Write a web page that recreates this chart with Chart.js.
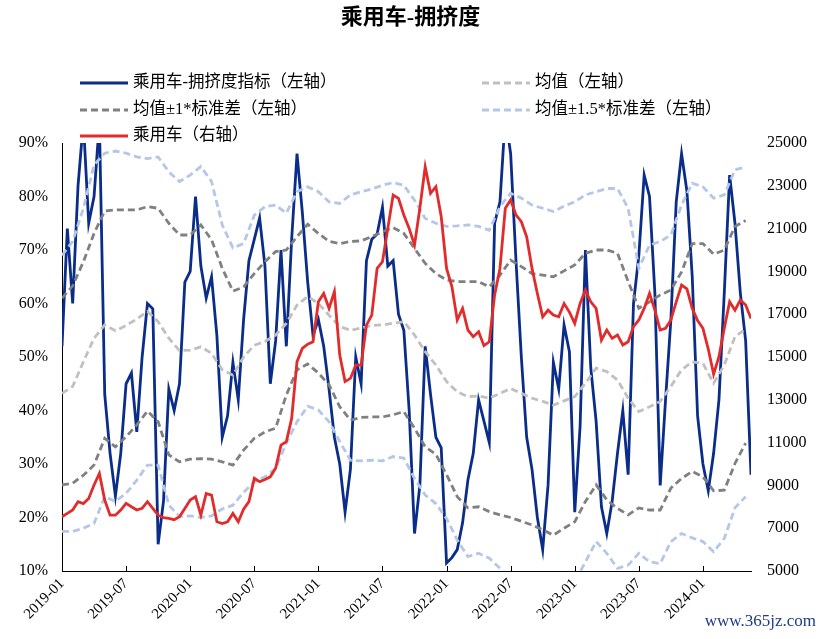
<!DOCTYPE html>
<html>
<head>
<meta charset="utf-8">
<script src="https://cdn.jsdelivr.net/npm/chart.js@4.4.1/dist/chart.umd.min.js"></script>
<style>
  body { margin: 0; background: #fff; }
  #wrap { position: relative; width: 821px; height: 639px; font-family: "Liberation Serif", "Noto Sans CJK SC", serif; color: #000; }
  #chart { position: absolute; left: 0; top: 0; }
  #title { position: absolute; left: 0; top: 3px; width: 821px; text-align: center; font-size: 22px; line-height: 28px; font-weight: bold; }
  .item { position: absolute; height: 20px; line-height: 20px; font-size: 16.5px; white-space: nowrap; }
  .item svg { vertical-align: middle; margin-right: 5px; }
  #site { position: absolute; right: 5px; top: 611px; font-size: 17px; color: #1f3c88; }
</style>
</head>
<body>
<div id="wrap">
  <canvas id="chart" width="821" height="639"></canvas>
  <div id="title">乘用车-拥挤度</div>
  <div id="legend"></div>
  <div id="site">www.365jz.com</div>
</div>
<script>
// x axis: months since 2019-01, labels every 6 months
const xTickLabels = ["2019-01", "2019-07", "2020-01", "2020-07", "2021-01", "2021-07",
                     "2022-01", "2022-07", "2023-01", "2023-07", "2024-01"];

// 拥挤度指标 (%), one value per half month from 2019-01
const crowdIndex = [
  52, 74, 60, 82, 94, 75, 80, 94, 43, 32, 24, 32,
  45, 47, 36, 50, 60, 59, 15, 23, 44, 40, 45, 64,
  66, 80, 67, 61, 65, 54, 35, 39, 49, 42, 57, 68,
  72, 76, 67, 45, 53, 70, 52, 72, 88, 77, 64, 54,
  57, 52, 44, 35, 30, 21, 29, 50, 45, 68, 72, 73,
  78, 67, 68, 58, 55, 40, 17, 26, 52, 43, 35, 33,
  11.5, 12.5, 14, 19, 27, 32, 42, 38, 34, 75, 79, 95,
  88, 68, 50, 35, 29, 20, 14, 26, 49, 44, 56, 51,
  21, 37, 70, 48, 38, 22, 17, 23, 32, 40, 28, 60,
  69, 84, 80, 62, 26, 42, 57, 79, 88, 81, 65, 39,
  30, 25, 32, 42, 62, 84, 75, 62, 53, 28
];

// 乘用车 (right axis), one value per half month from 2019-01
const carSales = [
  7535, 7690, 7850, 8240, 8150, 8390, 9020, 9560, 8315, 7610, 7610, 7850,
  8160, 8000, 7850, 7925, 8240, 7925, 7610, 7490, 7460, 7400, 7535, 7925,
  8315, 8470, 7610, 8620, 8550, 7300, 7220, 7300, 7690, 7300, 7890, 8240,
  9330, 9170, 9280, 9400, 9800, 10880, 11040, 12130, 14780, 15400, 15600, 15710,
  17580, 17970, 17270, 18050, 15090, 13850, 14000, 14620, 14620, 16490, 16960, 19140,
  19450, 21010, 22570, 22410, 21640, 21010, 20230, 21950, 23890, 22650, 22960, 21560,
  19140, 18290, 16730, 17270, 16260, 15950, 16180, 15530, 15710, 17900, 19140, 21950,
  22340, 21640, 21320, 20620, 19140, 17970, 16880, 17190, 16960, 16880, 17500, 17100,
  16570, 17500, 18130, 17580, 17270, 15790, 16260, 15870, 16030, 15560, 15710, 16420,
  16730, 17270, 17970, 17190, 16260, 16340, 16730, 17580, 18360, 18180, 17270, 16700,
  16340, 15370, 14200, 15010, 16340, 17580, 17190, 17660, 17430, 16800
];

// rolling mean and bands (%), one value per month from 2019-01
const meanLine = [
  43.2, 44.5, 49.1, 53.5, 56, 54.9, 55.9, 57.1, 58.5, 56.6,
  53.5, 51.2, 51.3, 51.9, 50.7, 47.6, 46.6, 50, 52.2, 52.9,
  54.1, 56.3, 59.7, 61.3, 60, 57.8, 55.7, 55, 55.4, 55.9,
  56, 56.3, 56.6, 54.1, 51, 48.5, 45.4, 43.5, 42.6, 42.7,
  42.3, 43.2, 44.1, 43.2, 42.3, 41.7, 41, 41.8, 42.6, 45.1,
  47.9, 47.3, 45.7, 42.3, 39.8, 40.7, 41.7, 44.5, 47.6, 49.1,
  48.8, 45.1, 48.5, 53.8, 55.2
];
const upper1 = [
  61, 63.3, 67.8, 73.1, 77.3, 77.5, 77.5, 77.5, 78.1, 77.8,
  75, 72.8, 72.8, 74.7, 71.9, 66.6, 62.3, 63.1, 65.6, 67.8,
  69.7, 70, 72.5, 74.8, 73.1, 71.6, 71.2, 71.6, 71.7, 72.5,
  73.4, 74.2, 73.1, 70.3, 67.5, 65.6, 64.4, 64.1, 64.1, 64.1,
  63.1, 65.3, 68.1, 66.9, 65.6, 65.3, 65, 66.1, 67.2, 69.4,
  70, 70, 69.4, 64.1, 59.1, 60.3, 61.6, 62.5, 65.9, 71.2,
  71.2, 69.2, 70, 74.4, 75.5
];
const lower1 = [
  26.1, 26.4, 27.9, 29.8, 34.8, 33.2, 35.1, 37.3, 39.9, 37.9,
  31.7, 30.4, 30.9, 31, 30.9, 30.4, 29.8, 32.6, 34.8, 36,
  36.7, 42.9, 47.6, 48.7, 47, 44.8, 40.7, 38.2, 38.7, 38.8,
  38.8, 39.2, 39.8, 36.7, 33.2, 31.8, 28, 23.9, 21.8, 22,
  21.1, 20.5, 20, 19.3, 18.6, 17.7, 16.7, 18, 19.2, 23,
  26.1, 23.3, 21.7, 20.5, 21.8, 21.4, 21.4, 25.5, 27.3, 28.6,
  27.6, 25, 25.1, 30.1, 33.9
];
const upper15 = [
  69, 71.6, 77.8, 85.9, 88.1, 88.5, 88.1, 87.4, 87.1, 87.4,
  84.6, 82.8, 84, 85.6, 82.8, 74.7, 70.4, 71.2, 76.5, 78.1,
  78.4, 76.9, 80.9, 81.8, 80.9, 79, 78.7, 80.3, 80.9, 81.4,
  82.1, 82.6, 82.1, 79.3, 75.9, 75, 74.4, 74.5, 74.7, 74.4,
  73.7, 78.1, 80.6, 79.7, 78.4, 77.8, 77.2, 78.2, 79, 80.3,
  80.9, 81.5, 81.5, 77.8, 66.6, 70.9, 71.6, 72.8, 78.4, 82.5,
  81.8, 79.7, 80.3, 85, 85.5
];
const lower15 = [
  17.4, 17.4, 18, 18.9, 23.9, 23, 24.5, 27, 29.8, 29.8,
  22.3, 20.2, 20.3, 20, 20.3, 21.6, 22.3, 24.7, 26.7, 27.6,
  29.2, 33.9, 37.9, 40.8, 40.1, 37.9, 34.2, 30.7, 30.6, 30.7,
  30.6, 31.4, 31.1, 27.3, 24.2, 22.6, 19.8, 15.8, 12.7, 13.3,
  12.4, 10.5, 8.1, 7.6, 7.3, 6.3, 5, 6, 8, 11.7,
  15.5, 13.3, 10.5, 11.1, 13.3, 11.7, 11.4, 15.5, 17, 16.2,
  15.5, 13.6, 16.1, 21.8, 23.9
];

function toPoints(values, step) {
    return values.map(function (v, i) { return { x: i * step, y: v }; });
}

function lineSet(label, values, step, color, dash, axis, order) {
    return {
        label: label,
        data: toPoints(values, step),
        borderColor: color,
        borderWidth: 2.8,
        borderDash: dash,
        yAxisID: axis,
        order: order,
        pointRadius: 0,
        tension: 0,
        fill: false
    };
}

const dash = [7, 4];
let datasets = [
    lineSet("乘用车-拥挤度指标（左轴）", crowdIndex, 0.5, "#0b2d8a", [], "y", 7),
    lineSet("均值（左轴）", meanLine, 1, "#c0c0c0", dash, "y", 6),
    lineSet("均值±1*标准差（左轴）", upper1, 1, "#808080", dash, "y", 5),
    lineSet("均值±1*标准差（左轴）", lower1, 1, "#808080", dash, "y", 4),
    lineSet("均值±1.5*标准差（左轴）", upper15, 1, "#b4c7e7", dash, "y", 3),
    lineSet("均值±1.5*标准差（左轴）", lower15, 1, "#b4c7e7", dash, "y", 2),
    lineSet("乘用车（右轴）", carSales, 0.5, "#e22b2b", [], "y2", 1)
];

// small tick marks pointing up from the x axis
const tickMarks = {
    id: "tickMarks",
    afterDraw: function (chart) {
        let ctx = chart.ctx;
        let xs = chart.scales.x;
        let bottom = chart.chartArea.bottom;
        ctx.save();
        ctx.strokeStyle = "#000";
        ctx.lineWidth = 1;
        xs.ticks.forEach(function (t) {
            if (t.value === 0) return;
            let px = Math.round(xs.getPixelForValue(t.value)) + 0.5;
            ctx.beginPath();
            ctx.moveTo(px, bottom);
            ctx.lineTo(px, bottom - 5);
            ctx.stroke();
        });
        ctx.restore();
    }
};

const tickFont = { family: "Liberation Serif", size: 16 };

let chart = new Chart(document.getElementById("chart"), {
    type: "line",
    data: { datasets: datasets },
    options: {
        responsive: false,
        animation: false,
        layout: { padding: { left: 10, right: 10, top: 143, bottom: 0 } },
        plugins: { legend: { display: false }, tooltip: { enabled: false } },
        scales: {
            x: {
                type: "linear",
                min: 0,
                max: (crowdIndex.length - 1) * 0.5,
                afterBuildTicks: function (scale) {
                    scale.ticks = xTickLabels.map(function (s, i) { return { value: i * 6 }; });
                },
                afterFit: function (scale) { scale.height = 68; },
                grid: { display: false, drawTicks: false },
                border: { color: "#000", width: 1 },
                ticks: {
                    autoSkip: false,
                    minRotation: 45,
                    maxRotation: 45,
                    padding: 4,
                    color: "#000",
                    font: { family: "Liberation Serif", size: 15 },
                    callback: function (v, i) { return xTickLabels[i]; }
                }
            },
            y: {
                position: "left",
                min: 10,
                max: 90,
                afterFit: function (scale) { scale.width = 52; },
                grid: { display: false, drawTicks: false },
                border: { color: "#000", width: 1 },
                ticks: {
                    stepSize: 10,
                    padding: 14,
                    color: "#000",
                    font: tickFont,
                    callback: function (v) { return v + "%"; }
                }
            },
            y2: {
                position: "right",
                min: 5000,
                max: 25000,
                afterFit: function (scale) { scale.width = 60; },
                grid: { display: false, drawTicks: false },
                border: { display: false },
                ticks: {
                    stepSize: 2000,
                    padding: 16,
                    color: "#000",
                    font: tickFont,
                    callback: function (v) { return String(v); }
                }
            }
        }
    },
    plugins: [tickMarks]
});

// legend in two columns, built from the datasets
let legendIdx = [0, 1, 2, 4, 6];
let legendPos = [[80, 82], [482, 82], [80, 109], [482, 109], [80, 135]];
let legend = document.getElementById("legend");
legendIdx.forEach(function (di, k) {
    let ds = datasets[di];
    let div = document.createElement("div");
    div.className = "item";
    div.style.left = legendPos[k][0] + "px";
    div.style.top = (legendPos[k][1] - 10) + "px";
    let dashAttr = ds.borderDash.length ? ' stroke-dasharray="' + ds.borderDash.join(",") + '"' : "";
    div.innerHTML = '<svg width="48" height="6"><line x1="0" y1="3" x2="48" y2="3" stroke="' +
        ds.borderColor + '" stroke-width="3"' + dashAttr + '/></svg>';
    let span = document.createElement("span");
    span.textContent = ds.label;
    div.appendChild(span);
    legend.appendChild(div);
});
</script>
</body>
</html>
